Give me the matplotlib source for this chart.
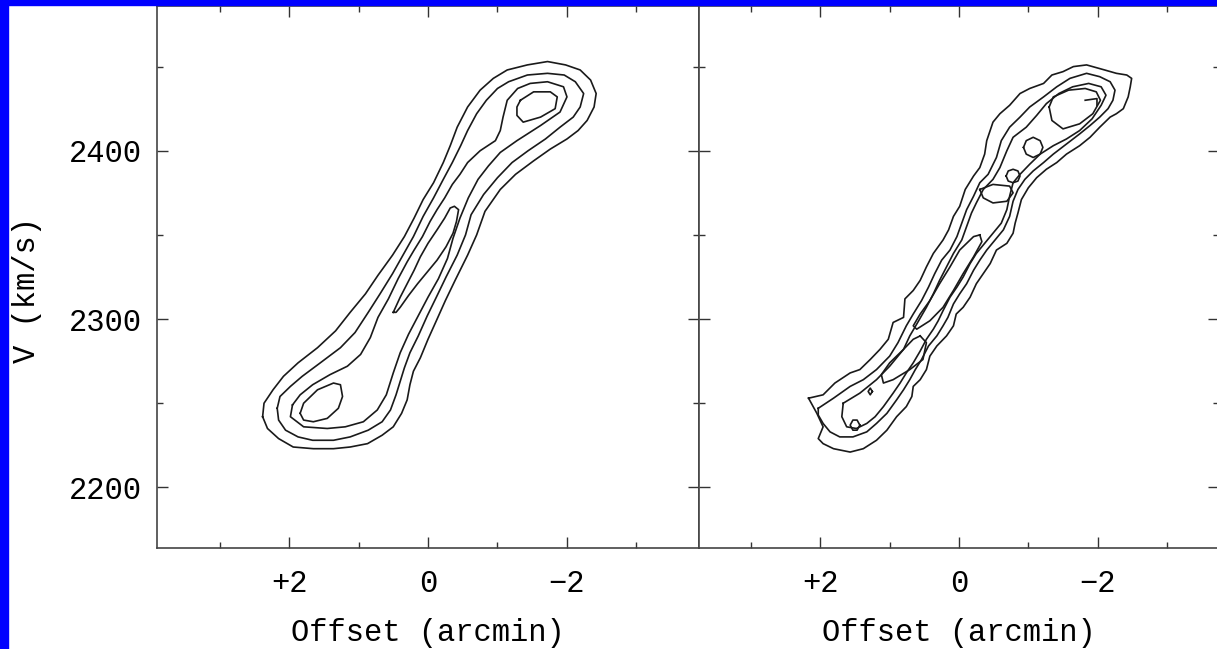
import matplotlib
matplotlib.use("Agg")
import matplotlib.pyplot as plt
from matplotlib.patches import Rectangle
from matplotlib.ticker import MultipleLocator

# Position-velocity contours, (offset arcmin, velocity km/s) vertices per closed contour.
# Left panel: model cube.
model_c1 = [(2.38, 2242), (2.36, 2250), (2.23, 2258), (2.08, 2266), (1.87, 2274), (1.59, 2283),
            (1.33, 2293), (1.12, 2304), (0.90, 2315), (0.72, 2326), (0.51, 2338), (0.34, 2349),
            (0.20, 2360), (0.07, 2371), (-0.08, 2381), (-0.22, 2393), (-0.32, 2403), (-0.42, 2414),
            (-0.57, 2426), (-0.75, 2436), (-0.94, 2443), (-1.14, 2448), (-1.43, 2451), (-1.72, 2453),
            (-1.98, 2451), (-2.19, 2448), (-2.34, 2442), (-2.42, 2434), (-2.39, 2426), (-2.29, 2418),
            (-2.16, 2412), (-2.00, 2407), (-1.76, 2401), (-1.52, 2394), (-1.26, 2386), (-1.04, 2377),
            (-0.82, 2364), (-0.70, 2350), (-0.57, 2338), (-0.39, 2323), (-0.25, 2311), (-0.12, 2299),
            (0.00, 2288), (0.11, 2277), (0.21, 2269), (0.26, 2261), (0.30, 2252), (0.38, 2244),
            (0.50, 2236), (0.66, 2231), (0.87, 2226), (1.12, 2224), (1.36, 2223), (1.65, 2223),
            (1.94, 2224), (2.15, 2229), (2.31, 2235)]
model_c2 = [(2.17, 2247), (2.13, 2254), (1.98, 2260), (1.81, 2266), (1.55, 2274), (1.26, 2283),
            (1.05, 2292), (0.86, 2304), (0.69, 2315), (0.51, 2327), (0.36, 2338), (0.21, 2349),
            (0.07, 2361), (-0.08, 2372), (-0.22, 2383), (-0.35, 2393), (-0.47, 2403), (-0.57, 2412),
            (-0.70, 2422), (-0.84, 2430), (-1.00, 2437), (-1.16, 2441), (-1.43, 2445), (-1.72, 2446),
            (-1.96, 2445), (-2.12, 2441), (-2.24, 2434), (-2.19, 2426), (-2.09, 2420), (-1.90, 2414),
            (-1.69, 2407), (-1.44, 2400), (-1.21, 2393), (-1.00, 2384), (-0.80, 2374), (-0.62, 2362),
            (-0.54, 2350), (-0.42, 2338), (-0.26, 2325), (-0.12, 2313), (0.01, 2302), (0.14, 2290),
            (0.26, 2280), (0.34, 2271), (0.40, 2263), (0.46, 2255), (0.54, 2246), (0.66, 2239),
            (0.86, 2234), (1.12, 2230), (1.36, 2228), (1.66, 2228), (1.87, 2230), (2.05, 2234),
            (2.15, 2240)]
model_c3 = [(1.95, 2249), (1.84, 2255), (1.66, 2261), (1.41, 2267), (1.16, 2272), (0.97, 2279),
            (0.83, 2289), (0.72, 2301), (0.57, 2312), (0.43, 2324), (0.30, 2334), (0.20, 2341),
            (0.08, 2349), (-0.03, 2358), (-0.13, 2365), (-0.24, 2372), (-0.35, 2380), (-0.46, 2386),
            (-0.57, 2393), (-0.75, 2400), (-0.97, 2406), (-1.04, 2412), (-1.08, 2420), (-1.14, 2430),
            (-1.29, 2437), (-1.47, 2440), (-1.72, 2441), (-1.95, 2438), (-2.00, 2432), (-1.90, 2423),
            (-1.62, 2415), (-1.28, 2406), (-1.04, 2399), (-0.87, 2391), (-0.72, 2383), (-0.58, 2372),
            (-0.46, 2360), (-0.36, 2348), (-0.28, 2336), (-0.15, 2324), (0.00, 2313), (0.14, 2302),
            (0.28, 2291), (0.40, 2280), (0.50, 2268), (0.60, 2255), (0.73, 2246), (0.93, 2239),
            (1.19, 2236), (1.45, 2235), (1.79, 2236), (1.98, 2242)]
model_peak_top = [(-1.33, 2430), (-1.52, 2435), (-1.76, 2435), (-1.86, 2432), (-1.83, 2425),
                  (-1.62, 2420), (-1.37, 2417), (-1.28, 2421), (-1.28, 2426)]
model_peak_bottom = [(1.84, 2244), (1.79, 2250), (1.59, 2258), (1.36, 2262), (1.26, 2261), (1.23, 2254),
                     (1.29, 2247), (1.45, 2241), (1.65, 2239), (1.79, 2240)]
model_peak_mid = [(0.50, 2304), (0.40, 2313), (0.30, 2321), (0.20, 2329), (0.11, 2337), (0.00, 2345),
                  (-0.13, 2353), (-0.24, 2360), (-0.32, 2366), (-0.38, 2367), (-0.44, 2365),
                  (-0.41, 2358), (-0.36, 2351), (-0.26, 2343), (-0.13, 2335), (0.01, 2328),
                  (0.15, 2321), (0.28, 2314), (0.40, 2307), (0.46, 2304)]

# Right panel: observed cube.
obs_c1 = [(2.17, 2253), (1.96, 2255), (1.79, 2262), (1.57, 2268), (1.43, 2270), (1.28, 2276),
          (1.14, 2282), (1.02, 2288), (0.95, 2298), (0.80, 2301), (0.78, 2312), (0.66, 2317),
          (0.56, 2323), (0.47, 2331), (0.37, 2339), (0.23, 2347), (0.15, 2353), (0.08, 2361),
          (-0.01, 2367), (-0.09, 2377), (-0.21, 2385), (-0.30, 2390), (-0.37, 2398), (-0.40, 2406),
          (-0.49, 2417), (-0.59, 2422), (-0.73, 2427), (-0.88, 2434), (-1.02, 2437), (-1.22, 2440),
          (-1.34, 2445), (-1.50, 2447), (-1.65, 2450), (-1.84, 2451), (-2.10, 2448), (-2.27, 2446),
          (-2.42, 2445), (-2.49, 2443), (-2.47, 2438), (-2.44, 2432), (-2.37, 2425), (-2.27, 2422),
          (-2.18, 2420), (-2.03, 2414), (-1.89, 2408), (-1.74, 2403), (-1.55, 2398), (-1.41, 2393),
          (-1.26, 2389), (-1.12, 2384), (-1.00, 2378), (-0.90, 2371), (-0.85, 2363), (-0.81, 2357),
          (-0.78, 2351), (-0.69, 2345), (-0.54, 2341), (-0.45, 2333), (-0.35, 2327), (-0.25, 2321),
          (-0.16, 2313), (-0.06, 2307), (0.04, 2303), (0.08, 2296), (0.18, 2290), (0.32, 2284),
          (0.42, 2278), (0.47, 2270), (0.56, 2264), (0.66, 2260), (0.68, 2254), (0.76, 2248),
          (0.90, 2242), (1.04, 2234), (1.19, 2228), (1.38, 2223), (1.57, 2221), (1.81, 2223),
          (1.96, 2226), (2.03, 2229), (1.96, 2236), (2.05, 2244)]
obs_c2 = [(2.03, 2247), (1.81, 2253), (1.57, 2260), (1.38, 2264), (1.19, 2270), (1.00, 2278),
          (0.88, 2286), (0.76, 2296), (0.66, 2303), (0.54, 2311), (0.44, 2319), (0.35, 2327),
          (0.25, 2335), (0.13, 2341), (0.03, 2349), (-0.04, 2357), (-0.11, 2365), (-0.21, 2373),
          (-0.30, 2381), (-0.42, 2386), (-0.54, 2396), (-0.61, 2406), (-0.73, 2414), (-0.88, 2420),
          (-1.02, 2426), (-1.22, 2432), (-1.41, 2438), (-1.60, 2443), (-1.84, 2446), (-2.03, 2444),
          (-2.18, 2441), (-2.25, 2436), (-2.22, 2430), (-2.15, 2425), (-2.03, 2420), (-1.89, 2415),
          (-1.74, 2410), (-1.55, 2404), (-1.36, 2398), (-1.22, 2393), (-1.07, 2388), (-0.95, 2383),
          (-0.85, 2377), (-0.78, 2370), (-0.73, 2361), (-0.64, 2353), (-0.52, 2347), (-0.40, 2341),
          (-0.30, 2335), (-0.21, 2329), (-0.11, 2321), (-0.01, 2315), (0.08, 2309), (0.16, 2301),
          (0.23, 2296), (0.32, 2290), (0.44, 2284), (0.54, 2276), (0.63, 2270), (0.71, 2264),
          (0.80, 2258), (0.90, 2252), (1.04, 2244), (1.19, 2238), (1.33, 2233), (1.53, 2230),
          (1.72, 2230), (1.86, 2233), (1.96, 2238), (2.03, 2243)]
obs_c3 = [(1.67, 2250), (1.43, 2256), (1.19, 2264), (1.00, 2272), (0.80, 2282), (0.71, 2290),
          (0.61, 2297), (0.47, 2307), (0.37, 2315), (0.28, 2323), (0.18, 2331), (0.08, 2339),
          (-0.04, 2347), (-0.11, 2355), (-0.18, 2363), (-0.25, 2369), (-0.35, 2377), (-0.49, 2383),
          (-0.59, 2390), (-0.69, 2400), (-0.78, 2408), (-0.97, 2414), (-1.12, 2421), (-1.26, 2428),
          (-1.44, 2434), (-1.64, 2438), (-1.87, 2440), (-2.05, 2438), (-2.12, 2433), (-2.05, 2427),
          (-1.92, 2419), (-1.74, 2412), (-1.55, 2407), (-1.36, 2403), (-1.17, 2398), (-1.02, 2392),
          (-0.88, 2386), (-0.78, 2381), (-0.73, 2373), (-0.69, 2365), (-0.61, 2357), (-0.49, 2351),
          (-0.37, 2345), (-0.25, 2339), (-0.16, 2333), (-0.06, 2325), (0.03, 2319), (0.13, 2313),
          (0.23, 2305), (0.30, 2299), (0.37, 2294), (0.47, 2288), (0.56, 2281), (0.66, 2274),
          (0.76, 2268), (0.85, 2262), (0.95, 2256), (1.09, 2248), (1.21, 2242), (1.33, 2238),
          (1.48, 2235), (1.62, 2236), (1.69, 2242)]
obs_top = [(-1.30, 2426), (-1.36, 2432), (-1.58, 2436), (-1.82, 2437), (-1.98, 2435), (-2.04, 2430),
           (-1.93, 2422), (-1.74, 2416), (-1.50, 2413), (-1.34, 2418)]
obs_knot_a = [(-0.93, 2402), (-0.97, 2406), (-1.07, 2408), (-1.17, 2406), (-1.21, 2402),
              (-1.17, 2398), (-1.07, 2396), (-0.97, 2398)]
obs_knot_b = [(-0.68, 2385), (-0.71, 2388), (-0.78, 2389), (-0.85, 2388), (-0.88, 2385),
              (-0.85, 2382), (-0.78, 2381), (-0.71, 2382)]
obs_crescent = [(-0.30, 2377), (-0.49, 2380), (-0.73, 2379), (-0.78, 2375), (-0.69, 2370),
                (-0.49, 2369), (-0.35, 2372)]
obs_ridge = [(-0.30, 2350), (-0.21, 2349), (-0.01, 2341), (0.13, 2331), (0.28, 2321), (0.42, 2311),
             (0.56, 2303), (0.66, 2296), (0.61, 2294), (0.42, 2299), (0.23, 2307), (0.08, 2317),
             (-0.06, 2327), (-0.21, 2337), (-0.33, 2346)]
obs_lower = [(0.56, 2290), (0.47, 2286), (0.52, 2276), (0.71, 2270), (0.95, 2264), (1.09, 2262),
             (1.12, 2267), (1.00, 2274), (0.80, 2282), (0.66, 2288)]
obs_dot = [(1.25, 2257), (1.28, 2259), (1.31, 2257), (1.28, 2255)]
obs_knot_c = [(1.43, 2237), (1.47, 2240), (1.53, 2240), (1.57, 2237), (1.53, 2234), (1.47, 2234)]
obs_spur = [(-1.82, 2430), (-1.99, 2431), (-1.99, 2427)]

model_contours = [model_c1, model_c2, model_c3, model_peak_top, model_peak_bottom, model_peak_mid]
obs_contours = [obs_c1, obs_c2, obs_c3, obs_top, obs_knot_a, obs_knot_b, obs_crescent,
                obs_ridge, obs_lower, obs_dot, obs_knot_c]
obs_open = [obs_spur]

x_ticks = [2, 0, -2]
x_ticklabels = ["+2", "0", "\u22122"]
y_ticks = [2200, 2300, 2400]

plt.rcParams["font.family"] = ["Liberation Mono", "DejaVu Sans Mono"]
FS = 22

W, H = 1217, 649
fig = plt.figure(figsize=(W / 100, H / 100), dpi=100)
fig.patch.set_facecolor("white")

ax_model = fig.add_axes([157 / W, 101 / H, 542 / W, 542 / H])
ax_obs = fig.add_axes([699 / W, 101 / H, 520 / W, 542 / H])


def draw_closed(ax, pts):
    xs = [p[0] for p in pts] + [pts[0][0]]
    ys = [p[1] for p in pts] + [pts[0][1]]
    ax.plot(xs, ys, color="#1a1a1a", lw=1.2, solid_joinstyle="round")


for c in model_contours:
    draw_closed(ax_model, c)
for c in obs_contours:
    draw_closed(ax_obs, c)
for seg in obs_open:
    ax_obs.plot([p[0] for p in seg], [p[1] for p in seg], color="#1a1a1a", lw=1.2)

ax_model.set_xlim(3.9, -3.9)
ax_obs.set_xlim(3.75, -3.75)

for ax in (ax_model, ax_obs):
    ax.set_ylim(2164, 2486)
    ax.set_xticks(x_ticks)
    ax.set_xticklabels(x_ticklabels)
    ax.set_yticks(y_ticks)
    ax.xaxis.set_minor_locator(MultipleLocator(1))
    ax.yaxis.set_minor_locator(MultipleLocator(50))
    ax.tick_params(which="both", direction="in", top=True, right=True, width=1.0,
                   color="#333333", labelsize=FS)
    ax.tick_params(which="major", length=8)
    ax.tick_params(which="minor", length=4.5)
    ax.tick_params(axis="x", pad=15)
    ax.tick_params(axis="y", pad=11)
    for s in ax.spines.values():
        s.set_color("#444444")
        s.set_linewidth(1.2)
    ax.set_xlabel("Offset (arcmin)", fontsize=FS, labelpad=14)

ax_obs.tick_params(labelleft=False)

fig.text(27 / W, 1 - 290 / H, "V (km/s)", rotation=90, ha="center", va="center", fontsize=FS)

# blue frame strips
fig.patches.append(Rectangle((0, 0), 8 / W, 1, transform=fig.transFigure, color="#0000ff", zorder=10))
fig.patches.append(Rectangle((0, 1 - 5 / H), 1, 5 / H, transform=fig.transFigure, color="#0000ff", zorder=10))

fig.savefig("out.png", dpi=100, facecolor="white")
